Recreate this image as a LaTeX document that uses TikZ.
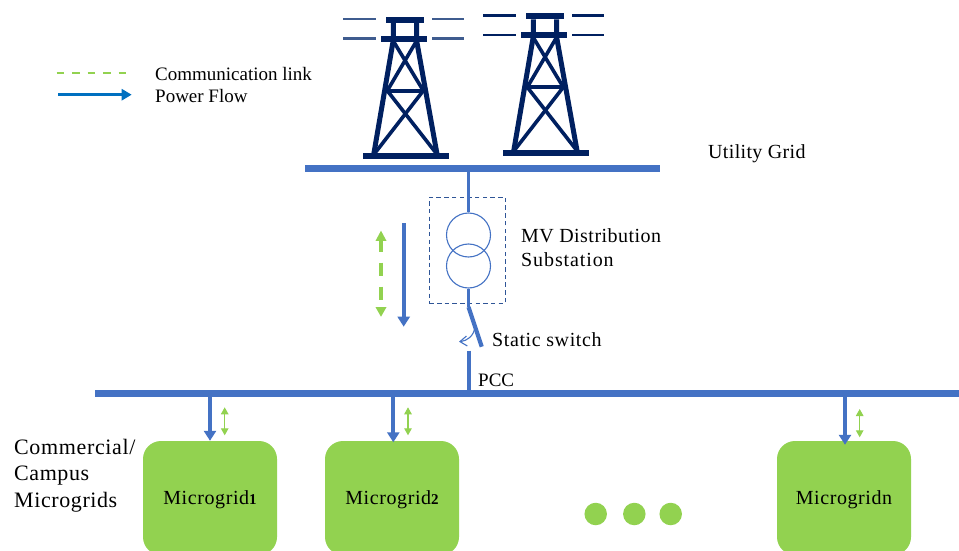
\documentclass[tikz,border=0pt]{standalone}
\usepackage{fontspec}
\setmainfont{Liberation Serif}
\usetikzlibrary{arrows.meta}
\definecolor{busblue}{HTML}{4472C4}
\definecolor{gridgreen}{HTML}{92D250}
\definecolor{towernavy}{HTML}{002060}
\definecolor{wirefade}{HTML}{3F5C8F}
\definecolor{legendblue}{HTML}{0070C0}
\definecolor{boxedge}{HTML}{2F5597}
\newcommand{\smalltxt}{\fontsize{19}{22}\selectfont}
\newcommand{\txt}{\fontsize{20}{22}\selectfont}
\newcommand{\bigtxt}{\fontsize{22}{24}\selectfont}
\newcommand{\spc}[1]{\addfontfeatures{LetterSpace=#1}}
\newcommand{\towerbody}{%
  \fill[towernavy] (386,17) rectangle (424,23);
  \fill[towernavy] (381,36) rectangle (427,42);
  \fill[towernavy] (363,153) rectangle (449,159);
  \draw[towerline] (393.3,23) -- (393.3,40) -- (373.8,154);
  \draw[towerline] (416.5,23) -- (416.5,40) -- (437,154);
  \draw[towernavy,line width=4pt] (387.3,90.7) -- (424.7,90.7);
  \draw[towerbrace] (393.3,41) -- (423.3,90.7) -- (375,153);
  \draw[towerbrace] (416.5,41) -- (387.3,90.7) -- (436,153);
}
\tikzset{
  x=1pt,y=-1pt,
  towerline/.style={towernavy,line width=5pt},
  towerbrace/.style={towernavy,line width=3.6pt},
  wire/.style={line width=2.2pt},
  bus/.style={fill=busblue,draw=none,inner sep=0pt,minimum height=7pt},
  feeder/.style={busblue,line width=3.6pt},
  coil/.style={draw=busblue,line width=1.1pt,fill=none,circle,inner sep=0pt,minimum size=44pt},
  label/.style={inner sep=0pt,anchor=base west,font=\txt},
  mgbox/.style={fill=gridgreen,draw=none,rounded corners=18pt,minimum width=134pt,minimum height=114pt,inner sep=0pt},
  mglabel/.style={inner sep=0pt,anchor=base,font=\txt},
  dot/.style={fill=gridgreen,draw=none,circle,inner sep=0pt,minimum size=22.5pt},
  powerarrow/.style={busblue,line width=3.8pt,-{Triangle[width=12pt,length=10pt]}},
  commarrow/.style={gridgreen,line width=1.2pt,{Triangle[width=7.5pt,length=7pt]}-{Triangle[width=7.5pt,length=7pt]}},
}
\begin{document}
\begin{tikzpicture}
\clip (0,0) rectangle (959,551);
\fill[white] (0,0) rectangle (959,551);
% towers
\towerbody
\foreach \ya in {19,38.5}{
  \draw[wire,wirefade] (343,\ya) -- (376,\ya);
  \draw[wire,wirefade] (432,\ya) -- (464,\ya);
}
\begin{scope}[shift={(140,-3.5)}]
\towerbody
\foreach \ya in {19,38.5}{
  \draw[wire,towernavy] (343,\ya) -- (376,\ya);
  \draw[wire,towernavy] (432,\ya) -- (464,\ya);
}
\end{scope}
% buses
\node[bus,minimum width=355pt] (upbus) at (482.5,168.5) {};
\node[bus,minimum width=864pt] (lowbus) at (527,393.5) {};
% substation
\node[draw=boxedge,line width=1.1pt,dash pattern=on 4.5pt off 3.2pt,minimum width=76pt,minimum height=106pt,inner sep=0pt] (subbox) at (467.3,250.3) {};
\node[coil] (c1) at (468.5,235) {};
\node[coil] (c2) at (468.5,266) {};
\draw[feeder] (upbus.south -| c1.north) -- (c1.north);
\coordinate (hinge) at (468.5,307);
\coordinate (swend) at (481.7,346.7);
\coordinate (pccup) at (469,350.7);
\draw[feeder] (c2.south) -- (hinge);
\draw[busblue,line width=4.2pt] (hinge) -- (swend);
\draw[feeder] (pccup) -- (lowbus.north -| pccup);
\coordinate (swa) at (475,326.7);
\coordinate (swb) at (459,341.7);
\draw[busblue,line width=1.1pt,-{Straight Barb[length=7pt,width=10pt]}] (swa) .. controls (474,336) and (467,341) .. (swb);
% flow arrows
\coordinate (fa) at (403.7,223.3);
\coordinate (fb) at (403.7,326.7);
\draw[powerarrow] (fa) -- (fb);
\coordinate (ga) at (381,230.7);
\coordinate (gb) at (381,316.7);
\draw[gridgreen,line width=3.6pt,dash pattern=on 13.7pt off 10.3pt,dash phase=2.1pt] (381,240.7) -- (381,307.3);
\fill[gridgreen] (ga) -- (386.5,240.9) -- (375.5,240.9) -- cycle;
\fill[gridgreen] (gb) -- (386.5,307.1) -- (375.5,307.1) -- cycle;
% legend
\coordinate (la) at (56.7,73.3);
\coordinate (lb) at (130,73.3);
\draw[gridgreen,line width=2.4pt,dash pattern=on 7.5pt off 8pt] (la) -- (lb);
\coordinate (pa) at (58,94.7);
\coordinate (pb) at (131.7,94.7);
\draw[legendblue,line width=3pt,-{Triangle[width=11pt,length=10pt]}] (pa) -- (pb);
\node[label,font=\smalltxt] (tcomm) at (155,80.5) {Communication link};
\node[label,font=\smalltxt] (tpow) at (155,102.5) {Power Flow};
\node[label] (tug) at (708,158) {\spc{1.7}Utility Grid};
\node[label] (tmv) at (521,242.5) {\spc{2.3}MV Distribution};
\node[label] (tsub) at (521,266) {\spc{4.5}Substation};
\node[label] (tsw) at (492,346.5) {\spc{3}Static switch};
\node[label,font=\smalltxt] (tpcc) at (478,386.5) {PCC};
\node[label,font=\bigtxt] (tc1) at (14,454) {\spc{2.9}Commercial/};
\node[label,font=\bigtxt] (tc2) at (14,480.7) {\spc{2.6}Campus};
\node[label,font=\bigtxt] (tc3) at (14,507) {\spc{2.7}Microgrids};
% microgrids
\node[mgbox] (mg1) at (210,498) {};
\node[mgbox] (mg2) at (392,498) {};
\node[mgbox] (mgn) at (844,498) {};
\node[mglabel] (l1) at (210,504.5) {\spc{3}Microgrid{\fontsize{15}{15}\selectfont\bfseries 1}};
\node[mglabel] (l2) at (392,504.5) {\spc{3}Microgrid{\fontsize{15}{15}\selectfont\bfseries 2}};
\node[mglabel] (ln) at (844,504.5) {\spc{3}Microgridn};
\draw[powerarrow] (lowbus.south -| mg1.north) -- (mg1.north);
\draw[powerarrow] ([xshift=1.3pt]lowbus.south -| mg2.north) -- ([xshift=1.3pt,yshift=-1.5pt]mg2.north);
\draw[powerarrow] ([xshift=1pt]lowbus.south -| mgn.north) -- ([xshift=1pt,yshift=-4pt]mgn.north);
\coordinate (s1a) at (224.7,407.3); \coordinate (s1b) at (224.7,435.3);
\coordinate (s2a) at (408,407.3); \coordinate (s2b) at (408,435.3);
\coordinate (sna) at (859.7,409); \coordinate (snb) at (859.7,437.3);
\draw[commarrow] (s1a) -- (s1b);
\draw[commarrow] (s2a) -- (s2b);
\draw[commarrow] (sna) -- (snb);
% dots
\node[dot] (d1) at (595.7,514) {};
\node[dot] (d2) at (634.3,514) {};
\node[dot] (d3) at (670.7,514) {};
\end{tikzpicture}
\end{document}
